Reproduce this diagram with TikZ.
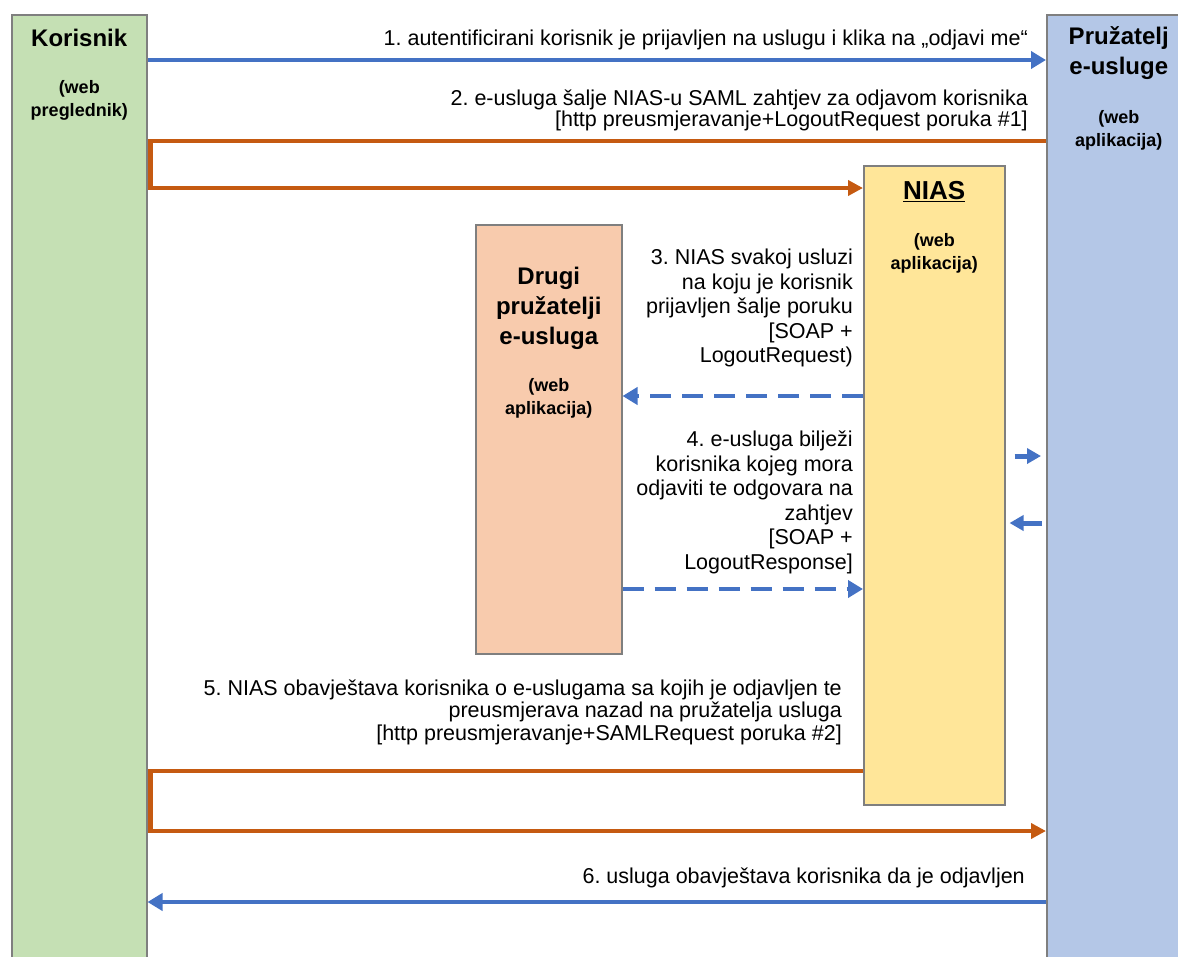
\documentclass[tikz,border=0pt]{standalone}
\usepackage{fontspec}
\setmainfont{Liberation Sans}
\usetikzlibrary{arrows.meta}
\definecolor{msgblue}{HTML}{4472C4}
\definecolor{msgorange}{HTML}{C55A11}
\definecolor{usergreen}{HTML}{C5E0B4}
\definecolor{spblue}{HTML}{B4C7E7}
\definecolor{niasyellow}{HTML}{FFE699}
\definecolor{otherpeach}{HTML}{F8CBAD}
\definecolor{boxgray}{HTML}{7F7F7F}
\frenchspacing

\begin{document}
\begin{tikzpicture}[x=1pt, y=-1pt,
    party/.style={draw=boxgray, line width=1.5pt, anchor=north west, inner sep=0pt},
    head/.style={font=\fontsize{24}{30}\selectfont\bfseries, align=center, inner sep=0pt},
    sub/.style={font=\fontsize{18}{23}\selectfont\bfseries, align=center, inner sep=0pt},
    note/.style={font=\fontsize{21.5}{24.5}\selectfont, align=right, anchor=east, inner sep=0pt},
    blueline/.style={draw=msgblue, line width=4pt, -{Triangle[length=15pt,width=17pt]}},
    orangeline/.style={draw=msgorange, line width=4.5pt, -{Triangle[length=15pt,width=15pt]}},
    dashline/.style={blueline, dash pattern=on 21pt off 11pt},
    shortline/.style={draw=msgblue, line width=5pt, -{Triangle[length=14pt,width=15pt]}}]
  \useasboundingbox (0,0) rectangle (1178,956);

  % the four parties
  \node[party, fill=usergreen, minimum width=135pt, minimum height=960pt] (korisnik) at (11,14) {};
  \node[party, fill=spblue, minimum width=144pt, minimum height=960pt] (pruzatelj) at (1046,14) {};
  \node[party, fill=niasyellow, minimum width=141pt, minimum height=639pt] (nias) at (863,165) {};
  \node[party, fill=otherpeach, minimum width=146pt, minimum height=429pt] (drugi) at (475,224) {};

  \node[head] (korisnikT) at (korisnik.north |- 0,38) {Korisnik};
  \node[sub] (korisnikS) at (korisnik.north |- 0,100.5) {(web\\preglednik)};
  \node[head] (pruzateljT) at (pruzatelj.north |- 0,53) {Pružatelj\\e-usluge};
  \node[sub] (pruzateljS) at (pruzatelj.north |- 0,130) {(web\\aplikacija)};
  \node[head, font=\fontsize{26}{30}\selectfont\bfseries] (niasT) at (nias.north |- 0,192) {\underline{NIAS}};
  \node[sub] (niasS) at (nias.north |- 0,253.5) {(web\\aplikacija)};
  \node[head] (drugiT) at (drugi.north |- 0,308) {Drugi\\pružatelji\\e-usluga};
  \node[sub] (drugiS) at (drugi.north |- 0,398.5) {(web\\aplikacija)};

  % messages
  \draw[blueline] (korisnik.east |- 0,60) -- (pruzatelj.west |- 0,60);
  \node[note] (msg1) at (1028,40) {1. autentificirani korisnik je prijavljen na uslugu i klika na „odjavi me“};

  \draw[orangeline] (pruzatelj.west |- 0,141) -| ([xshift=3pt]korisnik.east |- 0,188) -- (nias.west |- 0,188);
  \node[note, font=\fontsize{21.5}{21}\selectfont] (msg2) at (1028,110.5) {2. e-usluga šalje NIAS-u SAML zahtjev za odjavom korisnika\\ {[}http preusmjeravanje+LogoutRequest poruka \#1{]}};

  \draw[dashline] (nias.west |- 0,396) -- (drugi.east |- 0,396);
  \node[note] (msg3) at (853,308) {3. NIAS svakoj usluzi\\na koju je korisnik\\prijavljen šalje poruku\\ {[}SOAP +\\LogoutRequest)};

  \draw[dashline] (drugi.east |- 0,589) -- (nias.west |- 0,589);
  \node[note] (msg4) at (853,502.5) {4. e-usluga bilježi\\korisnika kojeg mora\\odjaviti te odgovara na\\zahtjev\\ {[}SOAP +\\LogoutResponse{]}};

  \draw[shortline, shorten <=9pt, shorten >=5pt] (nias.east |- 0,456) -- (pruzatelj.west |- 0,456);
  \draw[shortline, shorten <=4pt, shorten >=4pt] (pruzatelj.west |- 0,523) -- (nias.east |- 0,523);

  \draw[orangeline] (nias.west |- 0,771) -| ([xshift=3pt]korisnik.east |- 0,831) -- (pruzatelj.west |- 0,831);
  \node[note, font=\fontsize{21.5}{22.5}\selectfont] (msg5) at (842,712) {5. NIAS obavještava korisnika o e-uslugama sa kojih je odjavljen te\\preusmjerava nazad na pružatelja usluga\\ {[}http preusmjeravanje+SAMLRequest poruka \#2{]}};

  \draw[blueline] (pruzatelj.west |- 0,902) -- (korisnik.east |- 0,902);
  \node[note] (msg6) at (1025,878) {6. usluga obavještava korisnika da je odjavljen};
\end{tikzpicture}
\end{document}
